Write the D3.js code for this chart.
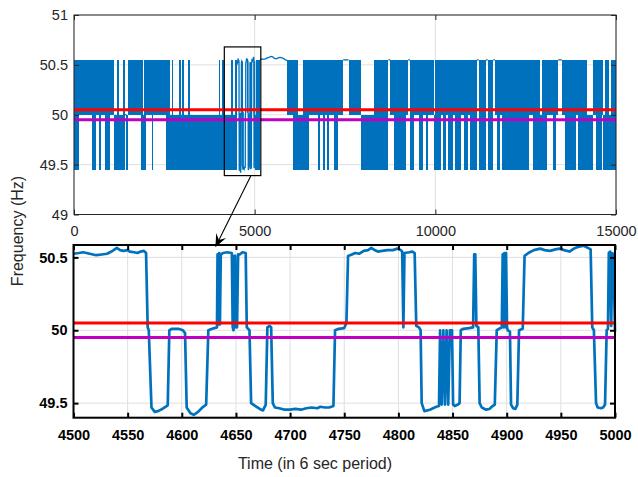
<!DOCTYPE html>
<html>
<head>
<meta charset="utf-8">
<script src="https://cdn.jsdelivr.net/npm/d3@7"></script>
<style>
  html, body { margin: 0; padding: 0; background: #fff; }
  svg { display: block; font-family: "Liberation Sans", Arial, Helvetica, sans-serif; }
</style>
</head>
<body>
<svg id="chart" width="638" height="477"></svg>
<script>
// ---------------- data ----------------

// Whole record (0–15000 samples) summarised as runs.
// Each run is [end sample, band]:
//   F = swinging over the full band, U = between upper level and 50 Hz,
//   L = between 50 Hz and lower level, H = held at upper level, M = held at 50 Hz,
//   Z = the detailed stretch (zoomSeries), S = the long held-high stretch (heldHighStretch)
const overviewRuns = [
  [150, "F"], [500, "U"], [600, "F"], [700, "U"], [750, "F"], [850, "U"], [1000, "F"],
  [1100, "U"], [1200, "L"], [1250, "F"], [1350, "L"], [1400, "F"], [1450, "M"], [1500, "L"],
  [1850, "U"], [1900, "F"], [1950, "L"], [2000, "F"], [2150, "U"], [2200, "F"], [2550, "U"],
  [2650, "F"], [2700, "L"], [2750, "F"], [2900, "L"], [2950, "F"], [3000, "L"], [3050, "F"],
  [3150, "L"], [3200, "F"], [4000, "L"], [4050, "F"], [4100, "L"], [4150, "F"], [4350, "L"],
  [4400, "F"], [4450, "L"], [4500, "F"], [5000, "Z"], [5050, "L"], [5150, "F"], [5900, "S"],
  [6050, "U"], [6200, "F"], [6350, "L"], [6500, "F"], [6750, "U"], [6800, "F"], [6900, "U"],
  [6950, "F"], [7000, "U"], [7050, "F"], [7200, "U"], [7300, "F"], [7450, "U"], [7600, "H"],
  [7950, "U"], [8300, "L"], [8700, "F"], [8750, "H"], [8850, "U"], [9200, "F"], [9250, "U"],
  [9300, "H"], [9400, "F"], [9550, "U"], [9650, "F"], [9750, "U"], [9800, "F"], [9950, "U"],
  [10000, "L"], [10150, "F"], [10200, "U"], [10300, "F"], [10350, "U"], [10500, "F"],
  [10550, "U"], [10700, "F"], [10800, "U"], [10900, "F"], [10950, "U"], [11150, "F"],
  [11200, "H"], [11400, "F"], [11450, "H"], [11600, "F"], [11650, "H"], [11700, "U"],
  [11800, "F"], [11850, "U"], [12600, "F"], [12700, "U"], [12900, "F"], [12950, "L"],
  [13100, "F"], [13250, "U"], [13350, "F"], [13400, "U"], [13500, "H"], [13600, "U"],
  [13900, "F"], [13950, "U"], [14200, "F"], [14350, "L"], [14450, "U"], [14600, "F"],
  [14650, "U"], [14700, "L"], [14800, "F"], [14850, "L"], [15000, "F"]
];

// Levels the frequency sits at (Hz)
const upperLevel = 50.55;
const midLevel = 50.0;
const lowerLevel = 49.45;

// Long stretch held at the upper level [sample, Hz]
const heldHighStretch = [
  [5150, 50.55], [5200, 50.56], [5250, 50.555], [5300, 50.56], [5350, 50.57], [5400, 50.575],
  [5450, 50.585], [5500, 50.58], [5550, 50.565], [5600, 50.56], [5650, 50.57], [5700, 50.575],
  [5750, 50.57], [5800, 50.565], [5850, 50.55], [5900, 50.545]
];

// Detailed stretch, samples 4500–5000 [sample, Hz]
const zoomSeries = [
  [4500, 50.525], [4505, 50.53], [4509, 50.535], [4515, 50.525], [4521, 50.515], [4526, 50.52],
  [4531, 50.525], [4535, 50.54], [4540, 50.565], [4543, 50.55], [4546, 50.545], [4550, 50.55],
  [4552, 50.54], [4556, 50.535], [4559, 50.53], [4562, 50.54], [4565, 50.545], [4567, 50.53],
  [4568.5, 50.02], [4569.5, 50.0], [4572, 49.47], [4575, 49.44], [4578, 49.445], [4582, 49.46],
  [4586, 49.48], [4587, 49.485], [4588.5, 50.0], [4591, 50.01], [4597, 50.01], [4601, 50.0],
  [4603, 49.98], [4604.5, 49.47], [4608, 49.43], [4611, 49.42], [4615, 49.44], [4619, 49.47],
  [4622.5, 49.49], [4624.5, 50.0], [4628, 50.01], [4632.5, 50.02],
  [4633, 50.52], [4633.8, 50.04], [4634.5, 50.53], [4635.2, 50.04], [4636, 50.52],
  [4638, 50.53], [4642, 50.535], [4646.2, 50.53], [4647, 50.02], [4647.8, 50.0],
  [4648.5, 50.51], [4649.3, 50.51], [4650, 50.02], [4651, 50.02], [4652, 50.52],
  [4653.5, 50.52], [4656, 50.535], [4659, 50.53], [4660, 50.02], [4662.5, 50.0],
  [4664, 49.5], [4668, 49.48], [4672, 49.46], [4675, 49.45], [4677.5, 49.49], [4679, 50.02],
  [4681, 50.03], [4682.5, 50.02], [4684, 49.5], [4686, 49.47], [4690, 49.465], [4695, 49.455],
  [4700, 49.455], [4705, 49.46], [4710, 49.455], [4715, 49.465], [4720, 49.47], [4725, 49.465],
  [4728, 49.475], [4732, 49.47], [4736, 49.47], [4740, 49.48], [4741.5, 50.0], [4745, 50.01],
  [4750, 50.015], [4752, 50.05], [4753.5, 50.51], [4757, 50.52], [4760, 50.53], [4764, 50.525],
  [4768, 50.545], [4772, 50.55], [4775, 50.565], [4778, 50.55], [4781, 50.54], [4785, 50.545],
  [4790, 50.55], [4795, 50.55], [4799, 50.56], [4802, 50.55], [4803.5, 50.54], [4804.6, 50.02],
  [4805.6, 50.53], [4810, 50.535], [4813, 50.54], [4815, 50.53], [4816.5, 50.03], [4819, 50.02],
  [4820.5, 50.0], [4821.5, 49.5], [4824, 49.445], [4829, 49.455], [4835, 49.475], [4837.5, 49.48],
  [4838.5, 50.0], [4840, 49.49], [4841.5, 50.0], [4843, 49.49], [4844.5, 50.0], [4846, 49.49],
  [4847.5, 50.0], [4849.5, 50.0], [4850.5, 49.49], [4852, 49.48],
  [4855, 49.49], [4856.5, 49.5], [4857.6, 50.0], [4860, 50.01], [4865, 50.015], [4869, 50.02],
  [4870, 50.52], [4871, 50.52], [4872, 50.03], [4873.8, 50.02], [4875, 49.5], [4877, 49.47],
  [4881, 49.455], [4884, 49.46], [4887, 49.48], [4889, 49.49], [4890.8, 50.0], [4893, 50.01],
  [4895.5, 50.02], [4896.3, 50.52], [4897, 50.02], [4897.8, 50.53], [4898.6, 50.02],
  [4899.4, 50.53], [4900.3, 50.02], [4901, 50.0], [4903, 49.99], [4904, 49.49], [4906, 49.465],
  [4908, 49.46], [4909.8, 49.49], [4911.4, 50.0], [4914.8, 50.01], [4916.5, 50.51], [4920, 50.53],
  [4925, 50.55], [4931, 50.56], [4935, 50.55], [4940, 50.545], [4945, 50.555], [4949, 50.56],
  [4953, 50.55], [4958, 50.54], [4962, 50.56], [4965, 50.57], [4971, 50.58], [4975, 50.565],
  [4977.5, 50.555], [4979, 50.02], [4980.5, 50.0], [4982.5, 49.5], [4984, 49.47], [4987, 49.465],
  [4989, 49.47], [4990.8, 49.49], [4992.3, 50.0], [4993.5, 50.01], [4994.3, 50.53],
  [4995.5, 50.54], [4996.5, 50.03], [4997.5, 50.53], [4998.5, 50.52], [5000, 49.99]
];

// Frequency limits (Hz)
const upperLimit = 50.05;
const lowerLimit = 49.95;

// Ticks
const overviewTicksX = [0, 5000, 10000, 15000];
const overviewTicksY = [49, 49.5, 50, 50.5, 51];
const zoomTicksX = [4500, 4550, 4600, 4650, 4700, 4750, 4800, 4850, 4900, 4950, 5000];
const zoomTicksY = [49.5, 50, 50.5];

// Highlighted window on the overview [sample from, sample to, Hz top, Hz bottom]
const windowBox = [4160, 5170, 50.68, 49.39];

// ---------------- drawing ----------------
const ink = "#262626";
const blue = "#0072BD";
const gridColor = "#dfdfdf";
const svg = d3.select("#chart");

const ov = { left: 74, right: 616, top: 15, bottom: 214.5 };
const zm = { left: 73.5, right: 615, top: 245, bottom: 417.7 };

const xOv = d3.scaleLinear().domain([0, 15000]).range([ov.left, ov.right]);
const yOv = d3.scaleLinear().domain([49, 51]).range([ov.bottom, ov.top]);
const xZm = d3.scaleLinear().domain([4500, 5000]).range([zm.left, zm.right]);
const yZm = d3.scaleLinear().domain([49.4, 50.585]).range([zm.bottom, zm.top]);

// Expand the overview runs: a swinging run fills its min–max extent (as a
// dense trace does on screen); held stretches are drawn as line pieces.
const bandSpan = {
  F: [upperLevel, lowerLevel],
  U: [upperLevel, midLevel],
  L: [midLevel, lowerLevel],
  H: [upperLevel],
  M: [midLevel]
};
const overviewBlocks = [];
const overviewPieces = [];
let runStart = 0;
overviewRuns.forEach(([runEnd, band]) => {
  if (band === "Z") {
    overviewPieces.push(zoomSeries);
  } else if (band === "S") {
    overviewPieces.push(heldHighStretch);
  } else {
    const span = bandSpan[band];
    if (span.length === 1) {
      overviewPieces.push([[runStart, span[0]], [runEnd, span[0]]]);
    } else {
      overviewBlocks.push({ t0: runStart, t1: runEnd, hi: span[0], lo: span[1] });
    }
  }
  runStart = runEnd;
});

// ---- overview panel ----
const gOv = svg.append("g");

gOv.append("g").selectAll("line").data(overviewTicksX).join("line")
  .attr("x1", d => xOv(d)).attr("x2", d => xOv(d)).attr("y1", ov.top).attr("y2", ov.bottom)
  .attr("stroke", gridColor).attr("stroke-width", 1);
gOv.append("g").selectAll("line").data(overviewTicksY).join("line")
  .attr("y1", d => yOv(d)).attr("y2", d => yOv(d)).attr("x1", ov.left).attr("x2", ov.right)
  .attr("stroke", gridColor).attr("stroke-width", 1);

const gTrace = gOv.append("g");
gTrace.selectAll("rect.block").data(overviewBlocks).join("rect")
  .attr("class", "block")
  .attr("x", d => xOv(d.t0))
  .attr("width", d => xOv(d.t1) - xOv(d.t0))
  .attr("y", d => yOv(d.hi))
  .attr("height", d => yOv(d.lo) - yOv(d.hi))
  .attr("fill", blue)
  .attr("shape-rendering", "crispEdges");
const lineOv = d3.line().x(d => xOv(d[0])).y(d => yOv(d[1]));
gTrace.selectAll("path.piece").data(overviewPieces).join("path")
  .attr("class", "piece")
  .attr("d", lineOv).attr("fill", "none").attr("stroke", blue).attr("stroke-width", 1.3);

gOv.append("line").attr("x1", ov.left).attr("x2", ov.right)
  .attr("y1", yOv(upperLimit)).attr("y2", yOv(upperLimit)).attr("stroke", "#ff0000").attr("stroke-width", 3);
gOv.append("line").attr("x1", ov.left).attr("x2", ov.right)
  .attr("y1", yOv(lowerLimit)).attr("y2", yOv(lowerLimit)).attr("stroke", "#bf00bf").attr("stroke-width", 3);

function styleAxis(g, color, fontSize, weight) {
  g.select(".domain").remove();
  g.selectAll(".tick line").attr("stroke", color);
  g.selectAll(".tick text").attr("fill", color).attr("font-size", fontSize)
    .attr("font-weight", weight).attr("font-family", "Liberation Sans, Arial, sans-serif");
}
const ovBottom = gOv.append("g").attr("transform", `translate(0,${ov.bottom})`)
  .call(d3.axisBottom(xOv).tickValues(overviewTicksX).tickSizeInner(-5).tickSizeOuter(0).tickPadding(11).tickFormat(d3.format("d")));
styleAxis(ovBottom, ink, 14.5, "normal");
const ovTop = gOv.append("g").attr("transform", `translate(0,${ov.top})`)
  .call(d3.axisTop(xOv).tickValues(overviewTicksX).tickSizeInner(-5).tickSizeOuter(0).tickFormat(""));
styleAxis(ovTop, ink, 14.5, "normal");
const ovLeft = gOv.append("g").attr("transform", `translate(${ov.left},0)`)
  .call(d3.axisLeft(yOv).tickValues(overviewTicksY).tickSizeInner(-5).tickSizeOuter(0).tickPadding(6).tickFormat(d3.format("")));
styleAxis(ovLeft, ink, 14.5, "normal");
const ovRight = gOv.append("g").attr("transform", `translate(${ov.right},0)`)
  .call(d3.axisRight(yOv).tickValues(overviewTicksY).tickSizeInner(-5).tickSizeOuter(0).tickFormat(""));
styleAxis(ovRight, ink, 14.5, "normal");

gOv.append("rect").attr("x", ov.left).attr("y", ov.top)
  .attr("width", ov.right - ov.left).attr("height", ov.bottom - ov.top)
  .attr("fill", "none").attr("stroke", ink).attr("stroke-width", 1);

// window box on the overview
gOv.append("rect")
  .attr("x", xOv(windowBox[0])).attr("y", yOv(windowBox[2]))
  .attr("width", xOv(windowBox[1]) - xOv(windowBox[0]))
  .attr("height", yOv(windowBox[3]) - yOv(windowBox[2]))
  .attr("fill", "none").attr("stroke", "#000").attr("stroke-width", 1.2);

// ---- detail panel ----
const gZm = svg.append("g");
gZm.append("g").selectAll("line").data(zoomTicksX).join("line")
  .attr("x1", d => xZm(d)).attr("x2", d => xZm(d)).attr("y1", zm.top).attr("y2", zm.bottom)
  .attr("stroke", gridColor).attr("stroke-width", 1);
gZm.append("g").selectAll("line").data(zoomTicksY).join("line")
  .attr("y1", d => yZm(d)).attr("y2", d => yZm(d)).attr("x1", zm.left).attr("x2", zm.right)
  .attr("stroke", gridColor).attr("stroke-width", 1);

const lineZm = d3.line().x(d => xZm(d[0])).y(d => yZm(d[1]));
gZm.append("path").datum(zoomSeries)
  .attr("d", lineZm).attr("fill", "none").attr("stroke", blue).attr("stroke-width", 2.7)
  .attr("stroke-linejoin", "round");

gZm.append("line").attr("x1", zm.left).attr("x2", zm.right)
  .attr("y1", yZm(upperLimit)).attr("y2", yZm(upperLimit)).attr("stroke", "#ff0000").attr("stroke-width", 3);
gZm.append("line").attr("x1", zm.left).attr("x2", zm.right)
  .attr("y1", yZm(lowerLimit)).attr("y2", yZm(lowerLimit)).attr("stroke", "#bf00bf").attr("stroke-width", 3);

const zmBottom = gZm.append("g").attr("transform", `translate(0,${zm.bottom})`)
  .call(d3.axisBottom(xZm).tickValues(zoomTicksX).tickSizeInner(-5).tickSizeOuter(0).tickPadding(12).tickFormat(d3.format("d")));
styleAxis(zmBottom, "#000", 14.5, "bold");
const zmTop = gZm.append("g").attr("transform", `translate(0,${zm.top})`)
  .call(d3.axisTop(xZm).tickValues(zoomTicksX).tickSizeInner(-5).tickSizeOuter(0).tickFormat(""));
styleAxis(zmTop, "#000", 14.5, "bold");
const zmLeft = gZm.append("g").attr("transform", `translate(${zm.left},0)`)
  .call(d3.axisLeft(yZm).tickValues(zoomTicksY).tickSizeInner(-5).tickSizeOuter(0).tickPadding(6).tickFormat(d3.format("")));
styleAxis(zmLeft, "#000", 14.5, "bold");
const zmRight = gZm.append("g").attr("transform", `translate(${zm.right},0)`)
  .call(d3.axisRight(yZm).tickValues(zoomTicksY).tickSizeInner(-5).tickSizeOuter(0).tickFormat(""));
styleAxis(zmRight, "#000", 14.5, "bold");
gZm.selectAll(".tick line").attr("stroke-width", 2);

gZm.append("rect").attr("x", zm.left).attr("y", zm.top)
  .attr("width", zm.right - zm.left).attr("height", zm.bottom - zm.top)
  .attr("fill", "none").attr("stroke", "#000").attr("stroke-width", 2);

// ---- arrow from the window box to the detail panel ----
const arrowFrom = [xOv(4898), yOv(49.392)];
const arrowTo = [xZm(4631), yZm(50.57)];
const dx = arrowTo[0] - arrowFrom[0], dy = arrowTo[1] - arrowFrom[1];
const len = Math.hypot(dx, dy);
const ux = dx / len, uy = dy / len, nx = -uy, ny = ux;
const headLen = 13, headHalf = 5.5, notch = 8;
const baseX = arrowTo[0] - ux * headLen, baseY = arrowTo[1] - uy * headLen;
svg.append("line")
  .attr("x1", arrowFrom[0]).attr("y1", arrowFrom[1])
  .attr("x2", arrowTo[0] - ux * notch).attr("y2", arrowTo[1] - uy * notch)
  .attr("stroke", "#000").attr("stroke-width", 1.1);
svg.append("path")
  .attr("d", `M${arrowTo[0]},${arrowTo[1]} L${baseX + nx * headHalf},${baseY + ny * headHalf} ` +
             `L${arrowTo[0] - ux * notch},${arrowTo[1] - uy * notch} ` +
             `L${baseX - nx * headHalf},${baseY - ny * headHalf} Z`)
  .attr("fill", "#000");

// ---- axis titles ----
svg.append("text")
  .attr("transform", "translate(23,231) rotate(-90)")
  .attr("text-anchor", "middle").attr("fill", ink).attr("font-size", 16)
  .text("Frequency (Hz)");
svg.append("text")
  .attr("x", 315).attr("y", 469)
  .attr("text-anchor", "middle").attr("fill", ink).attr("font-size", 16)
  .text("Time (in 6 sec period)");
</script>
</body>
</html>
